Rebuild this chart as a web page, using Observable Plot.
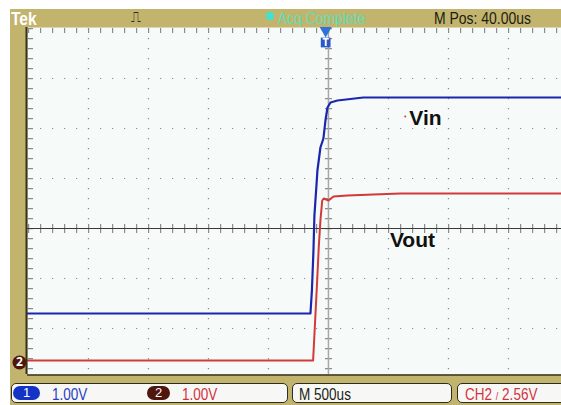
<!DOCTYPE html>
<html>
<head>
<meta charset="utf-8">
<script src="https://cdn.jsdelivr.net/npm/d3@7"></script>
<script src="https://cdn.jsdelivr.net/npm/@observablehq/plot@0.6"></script>
<style>
  html, body { margin: 0; padding: 0; background: #ffffff; }
  #scope { position: relative; width: 561px; height: 405px; overflow: hidden; background: #ffffff;
           font-family: "Liberation Sans", Arial, sans-serif; }
  #bezel { position: absolute; left: 10px; top: 9px; width: 551px; height: 396px; background: #c3b46d; }
  .t { position: absolute; white-space: pre; line-height: 1; transform: scaleX(0.82); transform-origin: 0 0; }
  .box { position: absolute; top: 383px; height: 18px; background: #f7f8f6; border: 1.5px solid #2d2b22; border-radius: 5px; }
  .oval { position: absolute; top: 386px; height: 14px; border-radius: 7px; color: #fff; font-size: 13px; text-align: center; line-height: 14px; }
  #plotwrap { position: absolute; left: 10px; top: 26px; }
</style>
</head>
<body>
<div id="scope">
  <div id="bezel"></div>
  <!-- header -->
  <div class="t" style="left:11px; top:9px; font-size:19px; font-weight:bold; color:#ffffff;">Tek</div>
  <div class="t" style="left:131px; top:10px; font-size:14px; color:#2a2a1a; font-family:'DejaVu Sans', sans-serif; transform:none;">⎍</div>
  <div class="t" style="left:266px; top:12px; width:8px; height:8px; border-radius:4px; background:#3de3d0; transform:none;"></div>
  <div class="t" style="left:278px; top:10px; font-size:17px; color:#62dcb4;">Acq Complete</div>
  <div class="t" style="left:434px; top:10px; font-size:17px; color:#1c1c14;">M Pos: 40.00us</div>
  <!-- plot -->
  <div id="plotwrap"></div>
  <!-- footer -->
  <div class="box" style="left:11px; width:275px;"></div>
  <div class="box" style="left:292px; width:158px;"></div>
  <div class="box" style="left:457px; width:120px;"></div>
  <div class="oval" style="left:13px; width:27px; background:#1233c4;">1</div>
  <div class="t" style="left:52px; top:386px; font-size:16.5px; color:#2c3cc0;">1.00V</div>
  <div class="oval" style="left:147px; width:23px; background:#4e160c;">2</div>
  <div class="t" style="left:182px; top:386px; font-size:16.5px; color:#d2323e;">1.00V</div>
  <div class="t" style="left:299px; top:386px; font-size:16.5px; color:#1c1c14;">M 500us</div>
  <div class="t" style="left:465px; top:386px; font-size:16.5px; color:#d2323e;">CH2 <span style="font-size:11px;">/</span> 2.56V</div>
</div>
<script>
// ---- data (time in microseconds relative to trigger, voltage in volts) ----
const ch1Time  = [-2468, -1500, -800, -300, -110, -98, -85, -77, -60, -52, -27, -2, 15, 32, 57, 115, 330, 800, 1400, 1982];
const ch1Volts = [0.00, 0.00, 0.00, 0.00, 0.00, 0.46, 1.26, 1.96, 2.56, 2.86, 3.32, 3.50, 3.86, 4.12, 4.22, 4.26, 4.32, 4.32, 4.32, 4.32];
const ch2Time  = [-2468, -1500, -800, -300, -88, -68, -54, -41, -27, -12, 1, 40, 82, 198, 415, 640, 1200, 1982];
const ch2Volts = [0.04, 0.04, 0.04, 0.04, 0.04, 0.98, 1.64, 2.30, 2.84, 3.24, 3.28, 3.24, 3.32, 3.34, 3.36, 3.38, 3.38, 3.38];

// screen layout in divisions (1 V/div, 500 us/div)
const ch1Ground = -1.70;   // divisions from centre
const ch2Ground = -2.68;
const centerTime = 40;     // M Pos 40.00us
const gridTimes = [-1960, -1460, -960, -460, 540, 1040, 1540];
const gridDivs = [-2, -1, 1, 2, 3];
const tMin = -2468, tMax = 1982, dMin = -2.92, dMax = 4.02;

const ch1 = ch1Time.map((t, i) => ({t, d: ch1Volts[i] + ch1Ground}));
const ch2 = ch2Time.map((t, i) => ({t, d: ch2Volts[i] + ch2Ground}));
const labels = [
  {t: 848, d: 2.2, text: "Vin"},
  {t: 740, d: -0.24, text: "Vout"}
];

const gridColor = "#8c8c8c";
const chart = Plot.plot({
  width: 551, height: 349,
  marginLeft: 17, marginRight: 0, marginTop: 1, marginBottom: 1,
  x: {domain: [tMin, tMax], axis: null},
  y: {domain: [dMin, dMax], axis: null},
  style: {background: "transparent", overflow: "visible"},
  marks: [
    Plot.frame({fill: "#f6faf8", stroke: null}),
    // dotted graticule
    Plot.ruleX(gridTimes, {stroke: gridColor, strokeWidth: 1.2, strokeDasharray: "1.2,8.8", strokeDashoffset: -1}),
    Plot.ruleY(gridDivs, {stroke: gridColor, strokeWidth: 1.2, strokeDasharray: "1.2,10.8", strokeDashoffset: -1}),
    // border minor ticks
    Plot.ruleX([tMin], {stroke: gridColor, strokeWidth: 5, dx: 3, strokeDasharray: "1.2,8.8", strokeDashoffset: -1}),
    Plot.ruleY([dMax], {stroke: gridColor, strokeWidth: 5, dy: 3, strokeDasharray: "1.2,10.8", strokeDashoffset: -1}),
    // centre axes with minor ticks
    Plot.ruleY([0], {stroke: gridColor, strokeWidth: 9, strokeDasharray: "1.2,10.8", strokeDashoffset: -1}),
    Plot.ruleX([centerTime], {stroke: gridColor, strokeWidth: 7, strokeDasharray: "1.2,8.8", strokeDashoffset: -1}),
    Plot.ruleX([centerTime], {stroke: "#a8a8a8", strokeWidth: 1.5}),
    Plot.ruleY([0], {stroke: "#3a3a3a", strokeWidth: 1.2}),
    // traces
    Plot.line(ch2, {x: "t", y: "d", stroke: "#d23a3a", strokeWidth: 2, curve: "linear"}),
    Plot.line(ch1, {x: "t", y: "d", stroke: "#1a26ad", strokeWidth: 2.2, curve: "linear"}),
    // annotations
    Plot.text(labels, {x: "t", y: "d", text: "text", fontSize: 21, fontWeight: "bold", fill: "#111",
      fontFamily: "'Liberation Sans', Arial, sans-serif", textAnchor: "middle", ariaLabel: "labels"}),
    Plot.dot([{t: 680, d: 2.24}], {x: "t", y: "d", r: 1, fill: "#c04040"}),
    // trigger position marker
    Plot.dot([{t: 0, d: dMax}], {x: "t", y: "d", dx: 2, dy: 3, symbol: "triangle", rotate: 180, r: 4.5, fill: "#2f72d8"}),
    Plot.dot([{t: 0, d: dMax}], {x: "t", y: "d", dx: 2, dy: 15, symbol: "square", r: 5.5, fill: "#2a58c8"}),
    Plot.text([{t: 0, d: dMax}], {x: "t", y: "d", dx: 2, dy: 15, text: () => "T", fill: "#ffffff", fontSize: 11, fontWeight: "bold"}),
    // channel 2 ground marker
    Plot.dot([{t: tMin, d: ch2Ground}], {x: "t", y: "d", dx: -8, r: 7, fill: "#4e160c"}),
    Plot.text([{t: tMin, d: ch2Ground}], {x: "t", y: "d", dx: -8, text: () => "2", fill: "#ffffff", fontSize: 12, fontWeight: "bold"}),
    // dark screen borders
    Plot.ruleX([tMin], {dx: -1, stroke: "#35331f", strokeWidth: 2}),
    Plot.ruleY([dMin], {dy: 0.5, stroke: "#35331f", strokeWidth: 1.5})
  ]
});
// condense the annotation labels horizontally (narrow bold face)
chart.querySelectorAll('g[aria-label="labels"] text').forEach(el => {
  let tr = el.getAttribute("transform") || "";
  if (el.hasAttribute("x") || el.hasAttribute("y")) {
    const x = +(el.getAttribute("x") || 0), y = +(el.getAttribute("y") || 0);
    el.removeAttribute("x"); el.removeAttribute("y");
    tr += ` translate(${x},${y})`;
  }
  el.setAttribute("transform", tr + " scale(0.82,1)");
});
document.getElementById("plotwrap").appendChild(chart);
</script>
</body>
</html>
